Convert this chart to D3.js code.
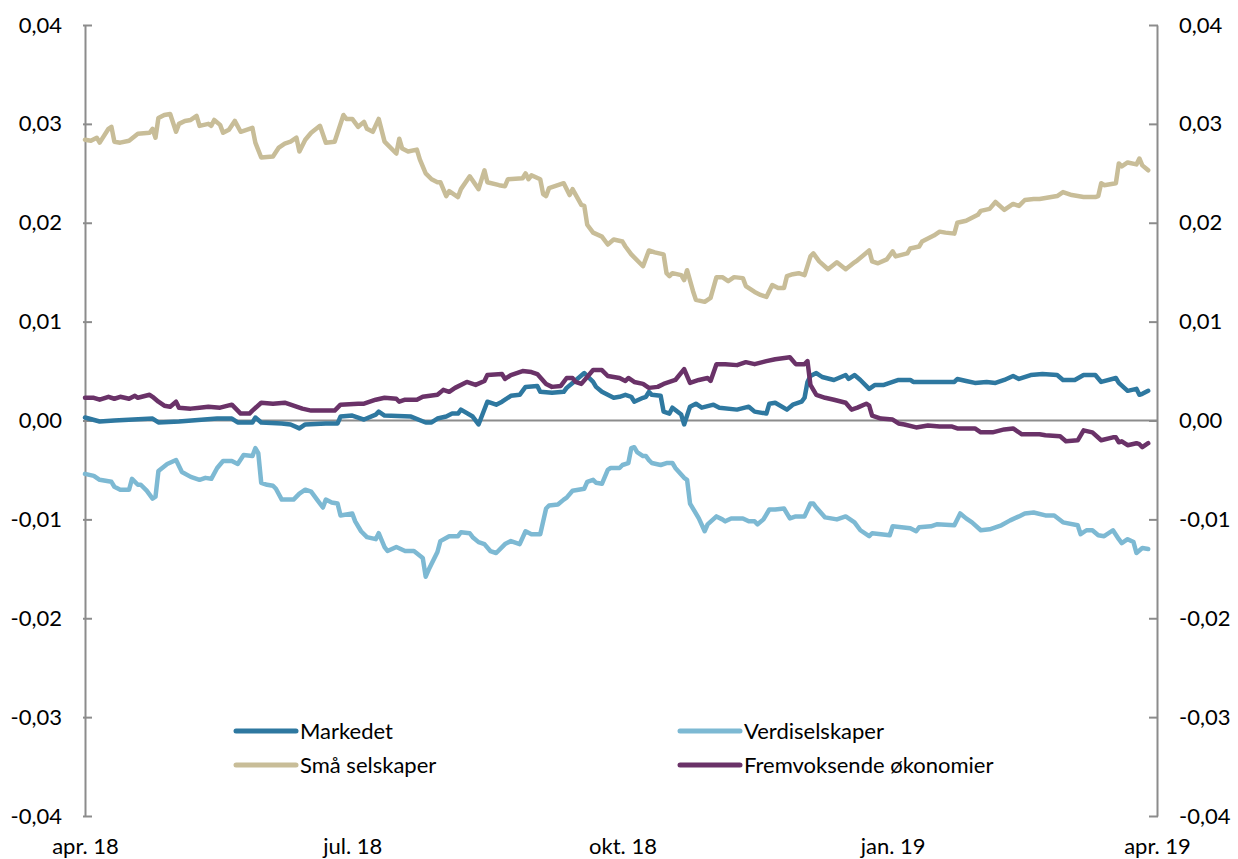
<!DOCTYPE html>
<html>
<head>
<meta charset="utf-8">
<script src="https://cdn.jsdelivr.net/npm/d3@7"></script>
<style>
  body { margin: 0; background: #ffffff; }
  svg { display: block; font-family: Lato, "Open Sans", sans-serif; }
</style>
</head>
<body>
<svg id="chart" width="1238" height="859"></svg>
<script>
// days since 1 april 2018, value
const markedet = [
  [0, 0.0003], [5, -0.0001], [10, 0.0000], [23, 0.0002], [25, -0.0002], [32, -0.0001], [45, 0.0002],
  [50, 0.0002], [52, -0.0002], [57, -0.0002], [58, 0.0003], [60, -0.0002], [67, -0.0003], [70, -0.0004],
  [73, -0.0008], [75, -0.0004], [82, -0.0003], [86, -0.0003], [87, 0.0004], [91, 0.0005], [95, 0.0001],
  [99, 0.0006], [100, 0.0009], [102, 0.0005], [111, 0.0004], [116, -0.0002], [118, -0.0002], [120, 0.0002],
  [123, 0.0004], [125, 0.0007], [127, 0.0007], [128, 0.0011], [132, 0.0004], [134, -0.0004], [137, 0.0019],
  [140, 0.0016], [142, 0.0019], [145, 0.0025], [148, 0.0026], [150, 0.0034], [154, 0.0035], [155, 0.0029],
  [159, 0.0028], [163, 0.0029], [164, 0.0033], [166, 0.0038], [168, 0.0043], [170, 0.0048], [171, 0.0045],
  [173, 0.0039], [174, 0.0034], [176, 0.0029], [178, 0.0026], [180, 0.0023], [182, 0.0024], [184, 0.0026],
  [186, 0.0024], [187, 0.0019], [190, 0.0023], [191, 0.0024], [192, 0.0029], [193, 0.0026], [196, 0.0025],
  [197, 0.0009], [199, 0.0007], [200, 0.0013], [203, 0.0006], [204, -0.0004], [206, 0.0014], [208, 0.0017],
  [210, 0.0013], [214, 0.0016], [216, 0.0013], [222, 0.0011], [226, 0.0014], [228, 0.0009], [232, 0.0007],
  [233, 0.0017], [235, 0.0018], [239, 0.0011], [241, 0.0016], [244, 0.0019], [245, 0.0023], [246, 0.0039],
  [247, 0.0045], [249, 0.0048], [251, 0.0044], [255, 0.0041], [259, 0.0046], [260, 0.0042], [262, 0.0046],
  [264, 0.0041], [267, 0.0032], [269, 0.0036], [272, 0.0036], [277, 0.0041], [281, 0.0041], [282, 0.0039],
  [296, 0.0039], [297, 0.0042], [300, 0.0040], [303, 0.0038], [307, 0.0039], [310, 0.0038], [313, 0.0041],
  [316, 0.0045], [318, 0.0042], [322, 0.0046], [326, 0.0047], [331, 0.0046], [333, 0.0041], [337, 0.0041],
  [340, 0.0046], [344, 0.0046], [346, 0.0039], [351, 0.0043], [352, 0.0038], [355, 0.0030], [358, 0.0032],
  [359, 0.0026], [360, 0.0027], [362, 0.0030]
]

const verdiselskaper = [
  [0, -0.0054], [3, -0.0056], [5, -0.0060], [9, -0.0062], [10, -0.0067], [12, -0.0070], [15, -0.0070],
  [16, -0.0059], [18, -0.0065], [19, -0.0065], [21, -0.0071], [23, -0.0079], [24, -0.0077], [25, -0.0051],
  [28, -0.0044], [31, -0.0040], [33, -0.0052], [36, -0.0057], [39, -0.0060], [41, -0.0058], [43, -0.0059],
  [45, -0.0048], [47, -0.0041], [50, -0.0041], [52, -0.0044], [54, -0.0035], [57, -0.0036], [58, -0.0028],
  [59, -0.0033], [60, -0.0063], [62, -0.0065], [64, -0.0066], [65, -0.0069], [67, -0.0080], [71, -0.0080],
  [73, -0.0074], [75, -0.0070], [77, -0.0072], [79, -0.0080], [81, -0.0088], [82, -0.0080], [84, -0.0083],
  [86, -0.0084], [87, -0.0096], [91, -0.0094], [92, -0.0102], [94, -0.0112], [96, -0.0118], [99, -0.0120],
  [100, -0.0114], [102, -0.0128], [103, -0.0132], [106, -0.0128], [109, -0.0132], [112, -0.0132],
  [115, -0.0139], [116, -0.0158], [117, -0.0151], [120, -0.0133], [121, -0.0122], [124, -0.0117],
  [127, -0.0117], [128, -0.0113], [131, -0.0114], [132, -0.0118], [134, -0.0123], [136, -0.0125],
  [138, -0.0132], [140, -0.0134], [143, -0.0125], [145, -0.0122], [148, -0.0125], [150, -0.0112],
  [152, -0.0115], [155, -0.0115], [157, -0.0089], [158, -0.0086], [161, -0.0085], [163, -0.0080],
  [164, -0.0078], [166, -0.0071], [170, -0.0069], [171, -0.0062], [173, -0.0060], [174, -0.0063],
  [176, -0.0064], [178, -0.0050], [179, -0.0048], [182, -0.0048], [183, -0.0045], [185, -0.0043],
  [186, -0.0028], [187, -0.0027], [188, -0.0032], [190, -0.0036], [191, -0.0036], [192, -0.0040],
  [193, -0.0043], [196, -0.0045], [198, -0.0043], [200, -0.0043], [201, -0.0048], [204, -0.0058],
  [205, -0.0060], [206, -0.0084], [209, -0.0099], [211, -0.0112], [212, -0.0105], [215, -0.0097],
  [217, -0.0100], [218, -0.0102], [220, -0.0099], [224, -0.0099], [226, -0.0102], [228, -0.0102],
  [229, -0.0105], [231, -0.0100], [233, -0.0090], [235, -0.0090], [238, -0.0089], [240, -0.0099],
  [242, -0.0097], [245, -0.0097], [247, -0.0084], [248, -0.0084], [249, -0.0088], [252, -0.0098],
  [256, -0.0100], [259, -0.0097], [262, -0.0103], [264, -0.0111], [267, -0.0117], [268, -0.0114],
  [274, -0.0116], [275, -0.0107], [281, -0.0109], [283, -0.0112], [284, -0.0108], [288, -0.0107],
  [290, -0.0105], [296, -0.0106], [298, -0.0094], [300, -0.0099], [302, -0.0103], [305, -0.0111],
  [308, -0.0110], [312, -0.0106], [315, -0.0101], [318, -0.0097], [320, -0.0094], [323, -0.0093],
  [327, -0.0096], [330, -0.0096], [333, -0.0103], [338, -0.0106], [339, -0.0115], [341, -0.0111],
  [343, -0.0111], [345, -0.0116], [347, -0.0117], [350, -0.0111], [352, -0.0120], [353, -0.0124],
  [355, -0.0120], [357, -0.0123], [358, -0.0134], [360, -0.0129], [362, -0.0130]
]

const smaSelskaper = [
  [0, 0.0284], [2, 0.0283], [4, 0.0286], [5, 0.0281], [8, 0.0295], [9, 0.0297], [10, 0.0282], [12, 0.0281],
  [15, 0.0283], [18, 0.0290], [22, 0.0291], [23, 0.0295], [24, 0.0286], [25, 0.0306], [27, 0.0309],
  [29, 0.0310], [31, 0.0292], [32, 0.0300], [34, 0.0303], [36, 0.0304], [38, 0.0308], [39, 0.0298],
  [42, 0.0300], [43, 0.0298], [44, 0.0304], [46, 0.0299], [47, 0.0291], [49, 0.0294], [51, 0.0303],
  [53, 0.0292], [57, 0.0296], [58, 0.0281], [60, 0.0266], [64, 0.0267], [66, 0.0276], [68, 0.0280],
  [70, 0.0282], [72, 0.0286], [73, 0.0272], [75, 0.0284], [77, 0.0291], [80, 0.0298], [82, 0.0281],
  [85, 0.0282], [88, 0.0309], [89, 0.0305], [91, 0.0305], [93, 0.0297], [95, 0.0302], [96, 0.0295],
  [98, 0.0292], [100, 0.0305], [102, 0.0282], [103, 0.0279], [106, 0.0270], [107, 0.0285], [108, 0.0275],
  [110, 0.0272], [113, 0.0274], [114, 0.0264], [116, 0.0250], [118, 0.0244], [120, 0.0241], [121, 0.0241],
  [123, 0.0227], [124, 0.0232], [127, 0.0226], [128, 0.0234], [131, 0.0247], [134, 0.0234], [136, 0.0253],
  [137, 0.0241], [141, 0.0238], [143, 0.0237], [144, 0.0244], [149, 0.0245], [150, 0.0250], [151, 0.0244],
  [152, 0.0248], [155, 0.0244], [156, 0.0229], [157, 0.0227], [158, 0.0235], [163, 0.0240], [165, 0.0228],
  [166, 0.0234], [169, 0.0218], [170, 0.0217], [171, 0.0198], [173, 0.0190], [176, 0.0186], [178, 0.0178],
  [180, 0.0183], [183, 0.0181], [184, 0.0176], [186, 0.0168], [190, 0.0156], [192, 0.0172], [194, 0.0170],
  [197, 0.0168], [198, 0.0149], [199, 0.0146], [200, 0.0149], [203, 0.0147], [204, 0.0142], [205, 0.0152],
  [207, 0.0131], [208, 0.0122], [211, 0.0120], [213, 0.0124], [215, 0.0145], [217, 0.0145], [219, 0.0141],
  [221, 0.0145], [224, 0.0144], [225, 0.0136], [228, 0.0130], [230, 0.0127], [232, 0.0125], [234, 0.0137],
  [236, 0.0134], [238, 0.0134], [239, 0.0146], [241, 0.0148], [243, 0.0149], [245, 0.0147], [247, 0.0166],
  [248, 0.0169], [250, 0.0161], [253, 0.0153], [256, 0.0160], [259, 0.0153], [262, 0.0160], [263, 0.0162],
  [267, 0.0172], [268, 0.0161], [270, 0.0159], [273, 0.0163], [275, 0.0171], [276, 0.0166], [280, 0.0169],
  [281, 0.0174], [284, 0.0176], [285, 0.0181], [289, 0.0187], [291, 0.0191], [293, 0.0190], [296, 0.0189],
  [297, 0.0200], [300, 0.0202], [304, 0.0208], [305, 0.0212], [308, 0.0214], [310, 0.0221], [313, 0.0213],
  [316, 0.0219], [318, 0.0217], [320, 0.0223], [323, 0.0224], [325, 0.0224], [331, 0.0227], [333, 0.0231],
  [336, 0.0228], [340, 0.0226], [344, 0.0226], [345, 0.0227], [346, 0.0240], [347, 0.0238], [351, 0.0240],
  [352, 0.0260], [353, 0.0257], [355, 0.0261], [358, 0.0259], [359, 0.0265], [360, 0.0258], [362, 0.0253]
]

const fremvoksende = [
  [0, 0.0023], [3, 0.0023], [5, 0.0021], [8, 0.0024], [10, 0.0022], [12, 0.0024], [15, 0.0022], [17, 0.0025],
  [18, 0.0023], [22, 0.0026], [23, 0.0024], [25, 0.0019], [27, 0.0015], [29, 0.0014], [31, 0.0019],
  [32, 0.0013], [36, 0.0012], [39, 0.0013], [42, 0.0014], [46, 0.0013], [50, 0.0016], [53, 0.0007],
  [56, 0.0007], [57, 0.0010], [60, 0.0018], [64, 0.0017], [68, 0.0018], [72, 0.0014], [74, 0.0012],
  [77, 0.0010], [79, 0.0010], [85, 0.0010], [87, 0.0016], [93, 0.0017], [95, 0.0017], [99, 0.0021],
  [102, 0.0023], [106, 0.0022], [107, 0.0019], [109, 0.0021], [113, 0.0021], [115, 0.0024], [120, 0.0026],
  [122, 0.0031], [124, 0.0029], [126, 0.0033], [130, 0.0039], [133, 0.0036], [136, 0.0040], [137, 0.0046],
  [142, 0.0047], [143, 0.0042], [145, 0.0046], [149, 0.0050], [152, 0.0049], [154, 0.0047], [157, 0.0037],
  [159, 0.0034], [162, 0.0035], [164, 0.0043], [166, 0.0043], [167, 0.0039], [169, 0.0037], [173, 0.0051],
  [176, 0.0051], [178, 0.0045], [182, 0.0043], [184, 0.0040], [185, 0.0043], [187, 0.0039], [190, 0.0037],
  [192, 0.0033], [195, 0.0034], [197, 0.0037], [201, 0.0041], [204, 0.0052], [206, 0.0038], [209, 0.0041],
  [212, 0.0043], [213, 0.0040], [215, 0.0057], [218, 0.0057], [222, 0.0056], [225, 0.0059], [228, 0.0057],
  [232, 0.0060], [235, 0.0062], [240, 0.0064], [242, 0.0057], [245, 0.0057], [246, 0.0060], [247, 0.0036],
  [249, 0.0026], [252, 0.0023], [255, 0.0021], [259, 0.0018], [261, 0.0011], [263, 0.0013], [266, 0.0017],
  [267, 0.0015], [268, 0.0005], [271, 0.0002], [275, 0.0001], [277, -0.0003], [279, -0.0004], [283, -0.0007],
  [287, -0.0005], [291, -0.0006], [295, -0.0006], [297, -0.0008], [303, -0.0008], [305, -0.0012],
  [309, -0.0012], [313, -0.0009], [316, -0.0008], [319, -0.0014], [325, -0.0014], [327, -0.0015],
  [332, -0.0016], [334, -0.0021], [338, -0.0020], [340, -0.0010], [343, -0.0012], [346, -0.0020],
  [350, -0.0017], [351, -0.0017], [352, -0.0022], [353, -0.0021], [355, -0.0025], [358, -0.0023],
  [359, -0.0024], [360, -0.0027], [362, -0.0023]
]

const seriesNames = ['Markedet', 'Verdiselskaper', 'Små selskaper', 'Fremvoksende økonomier']
const seriesColors = ['#2e78a0', '#7db9d3', '#c8bd98', '#6a3268']
const seriesData = [markedet, verdiselskaper, smaSelskaper, fremvoksende]

const yTicks = [-0.04, -0.03, -0.02, -0.01, 0, 0.01, 0.02, 0.03, 0.04]
const xTickDates = ['2018-04-01', '2018-07-01', '2018-10-01', '2019-01-01', '2019-04-01']
const xTickLabels = ['apr. 18', 'jul. 18', 'okt. 18', 'jan. 19', 'apr. 19']

const startDate = new Date(2018, 3, 1)
const axisGrey = '#8c8c8c'
const fontSize = 22

let margin = { left: 85, right: 81, top: 25, bottom: 43 }
let width = 1238, height = 859

let svg = d3.select('#chart')

let xscale = d3.scaleTime()
  .domain([startDate, new Date(2019, 3, 1)])
  .range([margin.left, width - margin.right])
let yscale = d3.scaleLinear()
  .domain([-0.04, 0.04])
  .range([height - margin.bottom, margin.top])

let fmt = (v) => v.toFixed(2).replace('.', ',')
let parseDay = d3.timeParse('%Y-%m-%d')

// zero line
svg.append('line')
  .attr('x1', xscale.range()[0]).attr('x2', xscale.range()[1])
  .attr('y1', yscale(0)).attr('y2', yscale(0))
  .style('stroke', axisGrey)
  .style('stroke-width', 2)

// left axis
let yLeft = svg.append('g')
  .attr('transform', `translate(${margin.left},0)`)
  .call(d3.axisLeft(yscale).tickValues(yTicks).tickFormat(fmt).tickSizeInner(-7).tickSizeOuter(0).tickPadding(23))

// right axis
let yRight = svg.append('g')
  .attr('transform', `translate(${width - margin.right},0)`)
  .call(d3.axisRight(yscale).tickValues(yTicks).tickFormat(fmt).tickSizeInner(-8).tickSizeOuter(0).tickPadding(22))

;[yLeft, yRight].forEach((g, i) => {
  g.select('.domain').style('stroke', axisGrey).style('stroke-width', 2)
  g.selectAll('.tick line').style('stroke', axisGrey).style('stroke-width', 2)
    .attr('x1', i == 0 ? -2 : 1)
  g.selectAll('.tick text')
    .style('font-family', 'Lato, "Open Sans", sans-serif')
    .style('font-size', fontSize + 'px')
    .style('fill', '#000')
})

// x axis labels only
let xAxis = svg.append('g')
  .attr('transform', `translate(0,${height - margin.bottom + 10})`)
  .call(d3.axisBottom(xscale)
    .tickValues(xTickDates.map(parseDay))
    .tickFormat((d, i) => xTickLabels[i])
    .tickSize(0).tickPadding(12))
xAxis.select('.domain').remove()
xAxis.selectAll('.tick text')
  .style('font-family', 'Lato, "Open Sans", sans-serif')
  .style('font-size', fontSize + 'px')
  .style('fill', '#000')

// series lines
let line = d3.line()
  .x(d => xscale(d3.timeDay.offset(startDate, d[0])))
  .y(d => yscale(d[1]))

seriesData.forEach((s, i) => {
  svg.append('path')
    .attr('d', line(s))
    .style('fill', 'none')
    .style('stroke', seriesColors[i])
    .style('stroke-width', 4.5)
    .style('stroke-linejoin', 'round')
    .style('stroke-linecap', 'round')
})

// legend, two columns
let legendCols = [236, 680]
let legendRows = [731, 765]
let legend = svg.append('g')
seriesNames.forEach((name, i) => {
  let lx = legendCols[i % 2]
  let ly = legendRows[Math.floor(i / 2)]
  legend.append('line')
    .attr('x1', lx).attr('x2', lx + 60)
    .attr('y1', ly).attr('y2', ly)
    .style('stroke', seriesColors[i])
    .style('stroke-width', 5)
    .style('stroke-linecap', 'round')
  legend.append('text')
    .attr('x', lx + 64).attr('y', ly)
    .attr('dy', '0.35em')
    .style('font-size', fontSize + 'px')
    .style('fill', '#000')
    .text(name)
})
</script>
</body>
</html>
